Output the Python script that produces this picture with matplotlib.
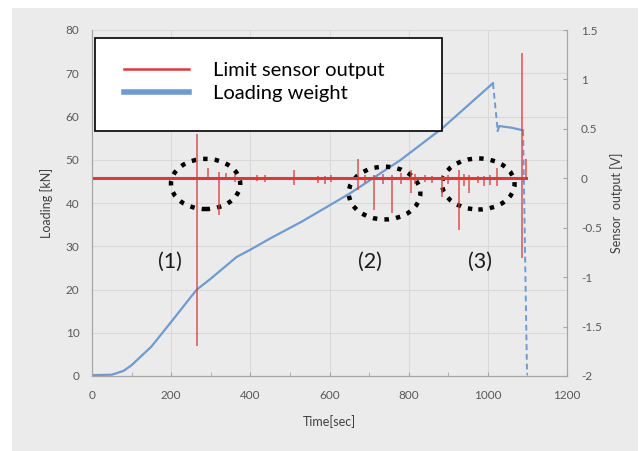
import matplotlib
matplotlib.use('Agg')
import matplotlib.pyplot as plt
from matplotlib.patches import Ellipse, Rectangle
from matplotlib.lines import Line2D

plt.rcParams['font.family'] = ['Lato', 'DejaVu Sans']

# Loading weight [kN] vs time [sec]
load_t = [0, 50, 80, 100, 150, 200, 250, 265, 300, 365, 400, 450, 530, 653, 779, 885, 1013]
load_kn = [0.2, 0.3, 1.2, 2.5, 6.8, 12.5, 18.3, 20.0, 22.5, 27.5, 29.2, 31.8, 35.7, 42.3, 49.9, 57.3, 67.7]
drop1_t = [1013, 1025]
drop1_kn = [67.7, 56.7]
hold_t = [1025, 1029, 1060, 1089]
hold_kn = [56.7, 57.8, 57.4, 56.8]
drop2_t = [1089, 1099]
drop2_kn = [56.8, 0.3]

# Limit sensor output [V]: baseline and spikes
base_t = [0, 1097]
base_v = [0.0, 0.0]
spike_t = [266, 294, 321, 339, 362, 418, 438, 511, 572, 588, 605, 671, 690, 712, 735,
           758, 780, 805, 815, 840, 860, 884, 900, 927, 940, 952, 975, 990, 1005, 1024,
           1087, 1096]
spike_lo = [-1.70, 0.0, -0.37, -0.02, -0.04, -0.03, -0.04, -0.07, -0.05, -0.06, -0.04, -0.12, -0.05, -0.32, -0.06,
            -0.35, -0.06, -0.15, -0.06, -0.04, -0.05, -0.19, -0.06, -0.52, -0.08, -0.15, -0.05, -0.08, -0.07, -0.08,
            -0.81, -0.02]
spike_hi = [0.45, 0.10, 0.06, 0.05, 0.04, 0.03, 0.03, 0.08, 0.02, 0.02, 0.03, 0.20, 0.03, 0.03, 0.04,
            0.03, 0.05, 0.08, 0.04, 0.03, 0.02, 0.02, 0.03, 0.08, 0.04, 0.03, 0.02, 0.02, 0.03, 0.10,
            1.27, 0.20]

# dotted circles (center t, center kN, width s, height kN) and labels
circ_t = [287, 739, 976]
circ_kn = [44.4, 42.3, 44.4]
circ_w = [175, 181, 183]
circ_h = [11.6, 12.2, 11.8]
lab_text = ['(1)', '(2)', '(3)']
lab_t = [197, 701, 981]
lab_kn = [26.4, 26.4, 26.4]

red = '#dc3a3a'
blue = '#6f9bd0'
grey_txt = '#595959'

fig = plt.figure(figsize=(6.41, 4.51), dpi=100)
fig.patches.append(Rectangle((12 / 641, 0), 626 / 641, 443 / 451, transform=fig.transFigure,
                             facecolor='#ebebeb', edgecolor='none', zorder=-10))
ax = fig.add_axes([92 / 641, 75 / 451, 475 / 641, 346 / 451])
ax.set_facecolor('none')
ax2 = ax.twinx()

ax.set_xlim(0, 1200)
ax.set_ylim(0, 80)
ax2.set_ylim(-2, 1.5)
ax.set_xticks(range(0, 1201, 200))
ax.set_xticks(range(100, 1200, 200), minor=True)
ax.set_yticks(range(0, 81, 10))
ax2.set_yticks([-2, -1.5, -1, -0.5, 0, 0.5, 1, 1.5])
ax2.set_yticklabels(['-2', '-1.5', '-1', '-0.5', '0', '0.5', '1', '1.5'])
ax.grid(True, color='#d9d9d9', lw=0.8)
ax.set_axisbelow(True)

for a in (ax, ax2):
    a.spines['top'].set_visible(False)
    for s in ('left', 'bottom', 'right'):
        a.spines[s].set_color('#a6a6a6')
ax.tick_params(axis='x', which='both', direction='in', length=3, color='#a6a6a6',
               labelsize=8.5, labelcolor=grey_txt, pad=10)
ax.tick_params(axis='y', length=0, labelsize=8.5, labelcolor=grey_txt, pad=9)
ax2.tick_params(axis='y', direction='in', length=3, color='#a6a6a6',
                labelsize=8.5, labelcolor=grey_txt, pad=10)

ax.set_xlabel('Time[sec]', fontsize=9, color='#404040', labelpad=10)
ax.set_ylabel('Loading [kN]', fontsize=9, color='#404040', labelpad=9)
ax2.set_ylabel('Sensor  output [V]', fontsize=9, color='#404040', labelpad=6)

# loading weight
ax.plot(load_t, load_kn, color=blue, lw=1.6, zorder=3)
ax.plot(drop1_t, drop1_kn, color=blue, lw=1.4, ls=(0, (3, 2)), zorder=3)
ax.plot(hold_t, hold_kn, color=blue, lw=1.6, zorder=3)
ax.plot(drop2_t, drop2_kn, color=blue, lw=1.4, ls=(0, (3, 2)), zorder=3)

# sensor output
ax2.plot(base_t, base_v, color=red, lw=2.2, zorder=2)
ax2.vlines(spike_t, spike_lo, spike_hi, color=red, lw=1.2, alpha=0.8, zorder=2)

# dotted circles and labels
for t, k, w, h in zip(circ_t, circ_kn, circ_w, circ_h):
    ax.add_patch(Ellipse((t, k), w, h, fill=False, edgecolor='black', lw=3.2,
                         ls=(0, (1, 1.6)), zorder=5))
for s, t, k in zip(lab_text, lab_t, lab_kn):
    ax.text(t, k, s, fontsize=15.5, ha='center', va='center', color='#1a1a1a', zorder=5)

# legend box
ax2.add_patch(Rectangle((0.006, 0.708), 0.731, 0.269, transform=ax2.transAxes,
                        facecolor='white', edgecolor='black', lw=1.2, zorder=6))
handles = [Line2D([], [], color=red, lw=1.8), Line2D([], [], color=blue, lw=4)]
leg = ax2.legend(handles, ['Limit sensor output', 'Loading weight'], loc='upper left',
                 bbox_to_anchor=(0.03, 0.96), frameon=False, fontsize=14.5,
                 handlelength=3.2, handletextpad=1.2, labelspacing=0.3)
leg.set_zorder(7)

fig.savefig('out.png', dpi=100)
